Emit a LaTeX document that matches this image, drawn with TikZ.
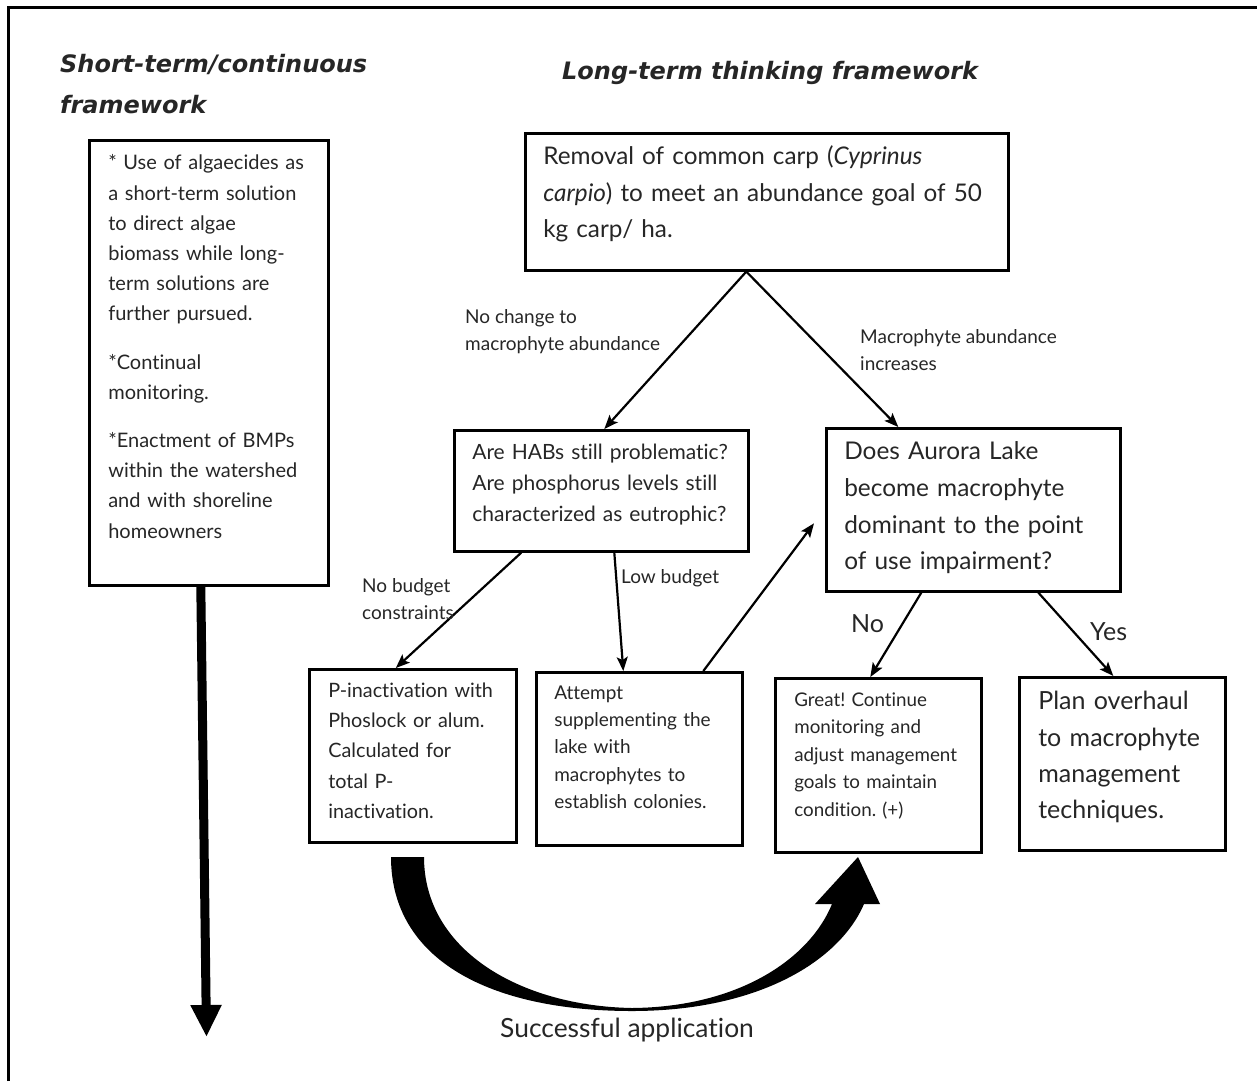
\documentclass[tikz,border=0pt]{standalone}
\usepackage{fontspec}
\setmainfont{Lato}[Ligatures=NoCommon]
\newfontfamily\headfont{DejaVu Sans}
\usetikzlibrary{arrows.meta}
\frenchspacing

\begin{document}
\begin{tikzpicture}[x=1pt,y=-1pt,
  every node/.style={text=black!85},
  flowbox/.style={draw=black, line width=2.6pt, anchor=north west, align=left, inner ysep=0pt},
  arr/.style={line width=2.2pt, -{Stealth[length=14pt,width=11pt,inset=3pt]}},
  lbl/.style={anchor=west, align=left, inner sep=0pt, font=\fontsize{19}{27}\selectfont},
  head/.style={anchor=west, align=left, inner sep=0pt, font=\headfont\bfseries\itshape\fontsize{24}{41}\selectfont}]
  \useasboundingbox (0,0) rectangle (1257,1081);
  \draw[line width=2.5pt] (8.5,1081) -- (8.5,7.5) -- (1257,7.5);

  \node[head] (hshort) at (60,84.5) {Short-term/continuous\\framework};
  \node[head] (hlong) at (562,73) {Long-term thinking framework};

  % short-term column
  \node[flowbox, inner xsep=19pt, text width=201pt, text height=29.5pt, text depth=415.5pt,
        font=\fontsize{20}{30.2}\selectfont] (stbox) at (88,139)
    {* Use of algaecides as\\a short-term solution\\to direct algae\\biomass while long-\\term solutions are\\further pursued.\\[18pt]
     *Continual\\monitoring.\\[18pt]
     *Enactment of BMPs\\within the watershed\\and with shoreline\\homeowners};
  \coordinate (stend) at (206.5,1037);
  \draw[line width=9pt, -{Triangle[width=29pt,length=32pt]}] ([xshift=-8]stbox.south) -- (stend);

  % long-term tree
  \node[flowbox, inner xsep=18pt, text width=447pt, text height=31.5pt, text depth=105.5pt,
        font=\fontsize{24.3}{36.5}\selectfont] (carp) at (524,132)
    {Removal of common carp (\textit{Cyprinus}\\\textit{carpio}) to meet an abundance goal of 50\\kg carp/ ha.};
  \node[flowbox, inner xsep=18pt, text width=258pt, text height=29.5pt, text depth=91.5pt,
        font=\fontsize{21}{31}\selectfont] (habs) at (453,429)
    {Are HABs still problematic?\\Are phosphorus levels still\\characterized as eutrophic?};
  \node[flowbox, inner xsep=18pt, text width=258pt, text height=31.5pt, text depth=131.5pt,
        font=\fontsize{24.4}{36.7}\selectfont] (aurora) at (825,427)
    {Does Aurora Lake\\become macrophyte\\dominant to the point\\of use impairment?};
  \node[flowbox, inner xsep=19pt, text width=169pt, text height=28pt, text depth=145pt,
        font=\fontsize{19.8}{30.3}\selectfont] (pinact) at (308,668)
    {P-inactivation with\\Phoslock or alum.\\Calculated for\\total P-\\inactivation.};
  \node[flowbox, inner xsep=18pt, text width=170pt, text height=27pt, text depth=146pt,
        font=\fontsize{19}{27.3}\selectfont] (attempt) at (535,671)
    {Attempt\\supplementing the\\lake with\\macrophytes to\\establish colonies.};
  \node[flowbox, inner xsep=19pt, text width=168pt, text height=28pt, text depth=146pt,
        font=\fontsize{18.8}{27.5}\selectfont] (great) at (774,677)
    {Great! Continue\\monitoring and\\adjust management\\goals to maintain\\condition. (+)};
  \node[flowbox, inner xsep=19pt, text width=168pt, text height=32.5pt, text depth=140.5pt,
        font=\fontsize{25}{36.3}\selectfont] (plan) at (1018,676)
    {Plan overhaul\\to macrophyte\\management\\techniques.};

  \draw[arr] ([xshift=-20.5]carp.south) -- ([xshift=3]habs.north);
  \draw[arr] ([xshift=-20.5]carp.south) -- ([xshift=-75]aurora.north);
  \draw[arr] ([xshift=-80]habs.south) -- ([xshift=-17]pinact.north);
  \draw[arr] ([xshift=13]habs.south) -- ([xshift=-16]attempt.north);
  \draw[arr] ([xshift=64]attempt.north) -- ([xshift=-11,yshift=-13.5]aurora.west);
  \draw[arr] ([xshift=-52]aurora.south) -- ([xshift=-8]great.north);
  \draw[arr] ([xshift=65]aurora.south) -- ([xshift=-9]plan.north);

  \node[lbl] (lnochange) at (465,331.5) {No change to\\macrophyte abundance};
  \node[lbl] (lincrease) at (860,350.5) {Macrophyte abundance\\increases};
  \node[lbl] (lnobudget) at (362,599.5) {No budget\\constraints};
  \node[lbl] (llowbudget) at (621,578) {Low budget};
  \node[lbl, font=\fontsize{25}{30}\selectfont] (lno) at (851,624) {No};
  \node[lbl, font=\fontsize{25}{30}\selectfont] (lyes) at (1090,632) {Yes};

  % successful application loop
  \fill (391,857) .. controls (391,960) and (490,1011) .. (632,1011)
        .. controls (760,1011) and (840,960) .. (864,904)
        -- (880,904) -- (858,857) -- (815,904) -- (832,904)
        .. controls (810,958) and (740,1007) .. (632,1008)
        .. controls (520,1006) and (424,950) .. (424,857) -- cycle;
  \node[font=\fontsize{26.4}{30}\selectfont, inner sep=0pt] (lsuccess) at (627,1030) {Successful application};
\end{tikzpicture}
\end{document}
